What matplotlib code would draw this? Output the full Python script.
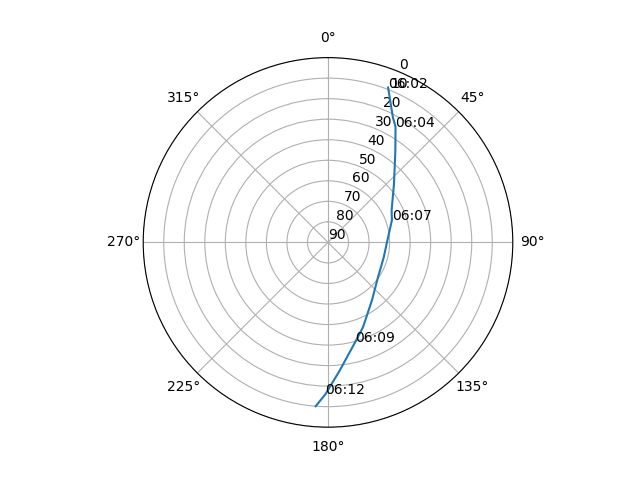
import numpy as np
import matplotlib
matplotlib.use("Agg")
import matplotlib.pyplot as plt

# satellite pass track: azimuth (deg) and elevation (deg)
azimuth = [21.2, 27.5, 30.3, 36.3, 48.5, 63.5, 70.7, 90.0, 105.0, 125.0,
           143.0, 157.6, 164.7, 174.8, 181.0, 184.3]
elevation = [9.1, 21.5, 24.8, 34.6, 47.1, 55.4, 57.0, 61.3, 61.9, 60.3,
             54.5, 45.3, 39.7, 27.3, 16.0, 10.0]

# time labels and the track index at which each is written
time_labels = ["06:02", "06:04", "06:07", "06:09", "06:12"]
label_index = [0, 2, 6, 12, 14]

r_ticks = [0, 10, 20, 30, 40, 50, 60, 70, 80, 90]

fig = plt.figure(figsize=(6.4, 4.8), dpi=100)
ax = fig.add_subplot(111, projection="polar")
ax.set_theta_zero_location("N")
ax.set_theta_direction(-1)

theta = np.radians(azimuth)
ax.plot(theta, elevation)
ax.set_rlim(90, 0)
ax.set_yticks(r_ticks)

for lab, i in zip(time_labels, label_index):
    ax.annotate(lab, xy=(theta[i], elevation[i]))

fig.savefig("out.png", dpi=100)
